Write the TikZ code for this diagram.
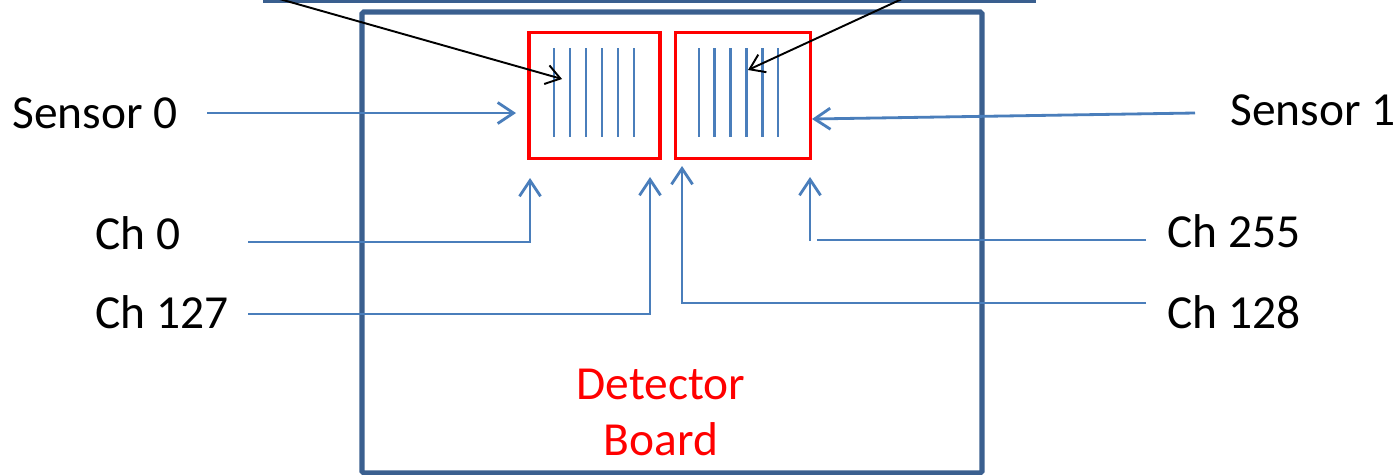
\documentclass[tikz,border=0pt]{standalone}
\usepackage{fontspec}
\setmainfont{Carlito}
\usetikzlibrary{arrows.meta}
\definecolor{conn}{HTML}{4A7EBB}
\definecolor{boardc}{HTML}{3A5F8F}
\definecolor{sred}{HTML}{FF0000}
\begin{document}
\begin{tikzpicture}[x=0.02cm,y=-0.02cm,
  lbl/.style={inner sep=0pt, font=\fontsize{27}{32}\selectfont},
  sensorbox/.style={draw=sred, line width=2.2pt, minimum height=2.52cm, inner sep=0pt},
  strip/.style={draw=conn, line width=1.6pt},
  bluearrow/.style={draw=conn, line width=1.6pt, -{Straight Barb[length=9pt,width=12pt,line width=1.6pt]}},
  blueline/.style={draw=conn, line width=1.6pt},
  blackarrow/.style={draw=black, line width=1.1pt, -{Straight Barb[length=8pt,width=11pt,line width=1.1pt]}},
  boardline/.style={draw=boardc, line width=3pt}]
\useasboundingbox (0,0) rectangle (1397,474);
% top bar and board
\draw[boardline, line width=3.6pt] (263,0) -- (1036,0);
\draw[boardline, rounded corners=1pt] (362,12) rectangle (982,473);
% sensors
\node[sensorbox, minimum width=2.61cm] (s0) at (594.5,95.5) {};
\node[sensorbox, minimum width=2.7cm] (s1) at (743,95.5) {};
\foreach \i in {0,...,5} {
  \draw[strip] ({554+16*\i},48) -- ({554+16*\i},137);
  \draw[strip] ({699+15.8*\i},48) -- ({699+15.8*\i},137);
}
% labels
\node[lbl, anchor=base west] (l0) at (12,128) {Sensor 0};
\node[lbl, anchor=base west] (l1) at (1230,125) {Sensor 1};
\node[lbl, anchor=base west] (c0) at (95,249) {Ch 0};
\node[lbl, anchor=base west] (c127) at (95,328) {Ch 127};
\node[lbl, anchor=base west] (c255) at (1167,247) {Ch 255};
\node[lbl, anchor=base west] (c128) at (1167,328) {Ch 128};
\node[lbl, text=sred, anchor=base] (det) at (661,399) {Detector};
\node[lbl, text=sred, anchor=base] (brd) at (661,455) {Board};
% connector coordinates
\coordinate (s0t) at (207,113);
\coordinate (s0h) at (516,113);
\coordinate (s1t) at (1195,113);
\coordinate (s1h) at (812,119);
\coordinate (c0t) at (248,242);
\coordinate (c0h) at (530,178);
\coordinate (c127t) at (248,314);
\coordinate (c127h) at (650,177);
\coordinate (c128t) at (1146,303);
\coordinate (c128h) at (682,166);
\coordinate (c255t) at (1146,240);
\coordinate (c255e) at (817,240);
\coordinate (c255v) at (810,241);
\coordinate (c255h) at (810,177);
\coordinate (bl0) at (276,-2);
\coordinate (bl0h) at (562,79);
\coordinate (bl1) at (904,-2);
\coordinate (bl1h) at (748,70);
% connectors
\draw[bluearrow] (s0t) -- (s0h);
\draw[bluearrow] (s1t) -- (s1h);
\draw[bluearrow] (c0t) -| (c0h);
\draw[bluearrow] (c127t) -| (c127h);
\draw[bluearrow] (c128t) -| (c128h);
\draw[blueline] (c255t) -- (c255e);
\draw[bluearrow] (c255v) -- (c255h);
\draw[blackarrow] (bl0) -- (bl0h);
\draw[blackarrow] (bl1) -- (bl1h);
\end{tikzpicture}
\end{document}
